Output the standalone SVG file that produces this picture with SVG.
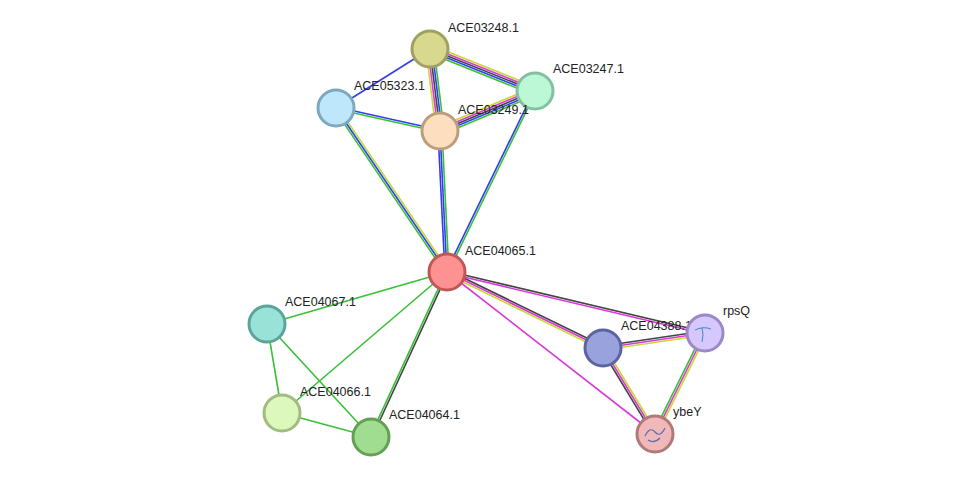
<svg xmlns="http://www.w3.org/2000/svg" width="976" height="482" viewBox="0 0 976 482">
<style>
line{stroke-width:1.6;fill:none}
.y{stroke:#c8d832}.m{stroke:#d83ad8}.k{stroke:#444}.b{stroke:#2f3ff0}.g{stroke:#38c038}
circle{stroke-width:3}
text{font-family:"Liberation Sans",Arial,sans-serif;font-size:12.5px;fill:#222}
</style>
<rect width="976" height="482" fill="#fff"/>
<g id="connectors">
<line class="b" x1="430" y1="49" x2="336" y2="108"/>
<g transform="translate(430,49) rotate(21.8)"><line class="y" x1="0" y1="-4" x2="113" y2="-4"/><line class="m" x1="0" y1="-2" x2="113" y2="-2"/><line class="k" x1="0" y1="0" x2="113" y2="0"/><line class="b" x1="0" y1="2" x2="113" y2="2"/><line class="g" x1="0" y1="4" x2="113" y2="4"/></g>
<g transform="translate(430,49) rotate(83)"><line class="y" x1="0" y1="4" x2="83" y2="4"/><line class="m" x1="0" y1="2" x2="83" y2="2"/><line class="k" x1="0" y1="0" x2="83" y2="0"/><line class="b" x1="0" y1="-2" x2="83" y2="-2"/><line class="g" x1="0" y1="-4" x2="83" y2="-4"/></g>
<g transform="translate(440,131) rotate(-22.8)"><line class="y" x1="0" y1="-4" x2="103" y2="-4"/><line class="m" x1="0" y1="-2" x2="103" y2="-2"/><line class="k" x1="0" y1="0" x2="103" y2="0"/><line class="b" x1="0" y1="2" x2="103" y2="2"/><line class="g" x1="0" y1="4" x2="103" y2="4"/></g>
<g transform="translate(336,108) rotate(12.5)"><line class="b" x1="0" y1="-1" x2="106" y2="-1"/><line class="g" x1="0" y1="1" x2="106" y2="1"/></g>
<g transform="translate(336,108) rotate(55.9)"><line class="y" x1="0" y1="-2" x2="198" y2="-2"/><line class="b" x1="0" y1="0" x2="198" y2="0"/><line class="g" x1="0" y1="2" x2="198" y2="2"/></g>
<g transform="translate(440,131) rotate(87.2)"><line class="b" x1="0" y1="2" x2="141" y2="2"/><line class="b" x1="0" y1="0" x2="141" y2="0"/><line class="g" x1="0" y1="-2" x2="141" y2="-2"/></g>
<g transform="translate(535,91) rotate(115.9)"><line class="g" x1="0" y1="-1" x2="201" y2="-1"/><line class="b" x1="0" y1="1" x2="201" y2="1"/></g>
<line class="g" x1="447" y1="272" x2="267" y2="324"/>
<line class="g" x1="447" y1="272" x2="282" y2="413"/>
<g transform="translate(447,272) rotate(114.7)"><line class="k" x1="0" y1="-1" x2="182" y2="-1"/><line class="g" x1="0" y1="1" x2="182" y2="1"/></g>
<line class="g" x1="267" y1="324" x2="282" y2="413"/>
<line class="g" x1="267" y1="324" x2="371" y2="437"/>
<line class="g" x1="282" y1="413" x2="371" y2="437"/>
<g transform="translate(447,272) rotate(26)"><line class="k" x1="0" y1="-2" x2="174" y2="-2"/><line class="m" x1="0" y1="0" x2="174" y2="0"/><line class="y" x1="0" y1="2" x2="174" y2="2"/></g>
<g transform="translate(447,272) rotate(13.3)"><line class="k" x1="0" y1="-1" x2="265" y2="-1"/><line class="m" x1="0" y1="1" x2="265" y2="1"/></g>
<line class="m" x1="447" y1="272" x2="655" y2="434"/>
<g transform="translate(603,348) rotate(-8.4)"><line class="k" x1="0" y1="-2" x2="103" y2="-2"/><line class="m" x1="0" y1="0" x2="103" y2="0"/><line class="y" x1="0" y1="2" x2="103" y2="2"/></g>
<g transform="translate(603,348) rotate(58.8)"><line class="k" x1="0" y1="2" x2="100" y2="2"/><line class="m" x1="0" y1="0" x2="100" y2="0"/><line class="y" x1="0" y1="-2" x2="100" y2="-2"/></g>
<g transform="translate(705,333) rotate(116.3)"><line class="y" x1="0" y1="-2" x2="113" y2="-2"/><line class="m" x1="0" y1="0" x2="113" y2="0"/><line class="g" x1="0" y1="2" x2="113" y2="2"/></g>
</g>
<g id="ACE03248.1"><circle cx="430" cy="49" r="18" fill="#d8d88e" stroke="#a0a060"/><text x="448" y="32">ACE03248.1</text></g>
<g id="ACE03247.1"><circle cx="535" cy="91" r="18" fill="#bcf7d6" stroke="#84c0a0"/><text x="553" y="73">ACE03247.1</text></g>
<g id="ACE05323.1"><circle cx="336" cy="108" r="18" fill="#bee7fb" stroke="#7ea8c0"/><text x="354" y="90">ACE05323.1</text></g>
<g id="ACE03249.1"><circle cx="440" cy="131" r="18" fill="#fddfc0" stroke="#bc9e7e"/><text x="458" y="114">ACE03249.1</text></g>
<g id="ACE04065.1"><circle cx="447" cy="272" r="18" fill="#fe9292" stroke="#c05656"/><text x="465" y="255">ACE04065.1</text></g>
<g id="ACE04067.1"><circle cx="267" cy="324" r="18" fill="#98e2d8" stroke="#5ca49a"/><text x="285" y="306">ACE04067.1</text></g>
<g id="ACE04066.1"><circle cx="282" cy="413" r="18" fill="#dcf8bc" stroke="#a0bc80"/><text x="300" y="396">ACE04066.1</text></g>
<g id="ACE04064.1"><circle cx="371" cy="437" r="18" fill="#a0dd90" stroke="#64a054"/><text x="389" y="419">ACE04064.1</text></g>
<g id="ACE04388.1"><circle cx="603" cy="348" r="18" fill="#9aa2de" stroke="#5a64a0"/><text x="621" y="330">ACE04388.1</text></g>
<g id="rpsQ"><circle cx="705" cy="333" r="18" fill="#d6c8fc" stroke="#9a88c8"/><path d="M695 330 q8 -4 16 -1 M702 328 q2 6 0 14" stroke="#3a8ac0" stroke-width="1" fill="none"/><text x="723" y="315">rpsQ</text></g>
<g id="ybeY"><circle cx="655" cy="434" r="18" fill="#f0b8b8" stroke="#b07a7a"/><path d="M645 436 q5 -10 10 -4 q5 6 10 -4 M648 440 q6 4 12 -2" stroke="#5070b0" stroke-width="1.2" fill="none"/><text x="673" y="416">ybeY</text></g>
</svg>
